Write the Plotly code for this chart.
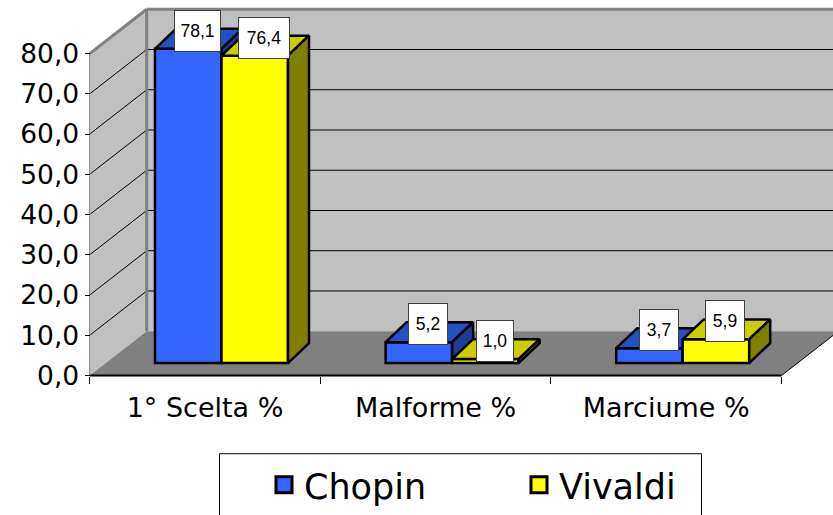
import plotly.graph_objects as go

CATEGORIES = ["1° Scelta %", "Malforme %", "Marciume %"]
CHOPIN = [78.1, 5.2, 3.7]
VIVALDI = [76.4, 1.0, 5.9]
Y_TICKS = [0, 10, 20, 30, 40, 50, 60, 70, 80]
W, H = 833, 515
PX_X = 230.6          # px per category
PX_Y = 4.04           # px per value unit
X0_PX, Y0_PX = 205.0, 377.0
xr = [(0 - X0_PX) / PX_X, (W - X0_PX) / PX_X]
yr = [(Y0_PX - H) / PX_Y, Y0_PX / PX_Y]
def hx(p): return p / PX_X
def hy(p): return p / PX_Y

WALL_DX, WALL_DY = hx(57), hy(44.5)
BAR_BASE = hy(12.5)
BAR_W = hx(66.5)
BAR_DX, BAR_DY = hx(21), hy(20)
OFF_A, OFF_B = hx(-50), hx(16.5)
LBL_DX, LBL_DY = hx(9.5), hy(18)
LBL_W = [[45, 38, 38], [50, 36, 38]]

shapes = []
def poly(pts, fill, line=None, lw=0):
    path = "M" + "L".join(f"{x},{y}" for x, y in pts) + "Z"
    shapes.append(dict(type="path", path=path, fillcolor=fill, layer="below",
                       line=dict(color=line or fill, width=lw), xref="x", yref="y"))
def seg(a, b, color, lw):
    shapes.append(dict(type="line", x0=a[0], y0=a[1], x1=b[0], y1=b[1], layer="below",
                       line=dict(color=color, width=lw), xref="x", yref="y"))

L, R, T = -0.5, 2.5, Y_TICKS[-1]
bx, by = L + WALL_DX, WALL_DY
poly([(L, 0), (bx, by), (bx, T + by), (L, T)], "#C0C0C0")
poly([(bx, by), (R + WALL_DX + 1, by), (R + WALL_DX + 1, T + by), (bx, T + by)], "#C0C0C0")
poly([(L, 0), (R, 0), (R + WALL_DX, by), (bx, by)], "#808080")
for t in Y_TICKS[1:-1]:
    seg((L, t), (bx, t + by), "#000000", 1)
    seg((bx, t + by), (R + WALL_DX + 1, t + by), "#000000", 1)
seg((L, T), (bx, T + by), "#808080", 3)
seg((bx, T + by), (R + WALL_DX + 1, T + by), "#808080", 3)
seg((bx, by), (bx, T + by), "#808080", 3)
seg((L, 0), (L, T), "#808080", 1)
seg((R, 0), (R + WALL_DX, by), "#000000", 1)
seg((L, 0), (R, 0), "#000000", 2)

fig = go.Figure()
SERIES = [("Chopin", CHOPIN, OFF_A, "#3366FF", "#2450C4", "#1C3C96", "x", "y"),
          ("Vivaldi", VIVALDI, OFF_B, "#FFFF00", "#CCCC00", "#808000", "x2", "y2")]

annots = []
for si, (name, vals, off, front, top, side, xa, ya) in enumerate(SERIES):
    fig.add_trace(go.Bar(x=list(range(len(vals))), y=vals, base=BAR_BASE, offset=off, width=BAR_W,
                         marker=dict(color=front, line=dict(color="#000000", width=2.5)),
                         name=name, showlegend=False, hoverinfo="skip", xaxis=xa, yaxis=ya))
    for i, v in enumerate(vals):
        x0, x1, yb, yt = i + off, i + off + BAR_W, BAR_BASE, BAR_BASE + v
        fig.add_trace(go.Scatter(x=[x0, x0 + BAR_DX, x1 + BAR_DX, x1, x0], y=[yt, yt + BAR_DY, yt + BAR_DY, yt, yt],
                                 mode="lines", fill="toself", fillcolor=top, xaxis=xa, yaxis=ya,
                                 line=dict(color="#000000", width=2.5), showlegend=False, hoverinfo="skip"))
        fig.add_trace(go.Scatter(x=[x1, x1 + BAR_DX, x1 + BAR_DX, x1, x1], y=[yt, yt + BAR_DY, yb + BAR_DY, yb, yt],
                                 mode="lines", fill="toself", fillcolor=side, xaxis=xa, yaxis=ya,
                                 line=dict(color="#000000", width=2.5), showlegend=False, hoverinfo="skip"))
        annots.append(dict(x=(x0 + x1) / 2 + LBL_DX, y=yt + LBL_DY, xref="x", yref="y", showarrow=False,
                           text=f"{v:.1f}".replace(".", ","), width=LBL_W[si][i], height=40,
                           bgcolor="#FFFFFF", bordercolor="#404040", borderwidth=1, borderpad=0,
                           align="center", valign="middle", xanchor="center", yanchor="middle",
                           font=dict(family="Liberation Sans", size=17.5, color="#000000")))

for name, vals, off, front, top, side, xa, ya in SERIES:
    fig.add_trace(go.Scatter(x=[None], y=[None], mode="markers", name=name,
                             marker=dict(symbol="square", size=16, color=front, line=dict(color="#000000", width=3))))

shapes.append(dict(type="rect", xref="paper", yref="paper",
                   x0=219.5 / W, x1=701.5 / W, y0=-0.1, y1=(H - 455.5) / H,
                   line=dict(color="#000000", width=1), fillcolor="#FFFFFF", layer="below"))

fig.update_layout(
    width=W, height=H, margin=dict(l=0, r=0, t=0, b=0),
    paper_bgcolor="#FFFFFF", plot_bgcolor="rgba(0,0,0,0)",
    barmode="overlay", shapes=shapes, annotations=annots,
    font=dict(family="DejaVu Sans", color="#000000"),
    xaxis=dict(range=xr, anchor="free", position=(H - Y0_PX) / H, showgrid=False, zeroline=False, showline=False,
               tickmode="array", tickvals=list(range(3)), ticktext=CATEGORIES,
               ticks="outside", ticklen=8, tickcolor="rgba(0,0,0,0)", tickfont=dict(size=27),
               minor=dict(tickmode="array", tickvals=[-0.5, 0.5, 1.5, 2.5], ticks="outside", ticklen=7,
                          tickcolor="#000000", tickwidth=1, showgrid=False)),
    yaxis=dict(range=yr, anchor="free", position=89.5 / W, showgrid=False, zeroline=False, showline=False,
               tickmode="array", tickvals=Y_TICKS, ticktext=[f"{t:.1f}".replace(".", ",") for t in Y_TICKS],
               ticks="outside", ticklen=5, tickcolor="#000000", tickfont=dict(size=26.5)),
    xaxis2=dict(range=xr, overlaying="x", visible=False, anchor="y2"),
    yaxis2=dict(range=yr, overlaying="y", visible=False, anchor="x2"),
    legend=dict(orientation="h", x=264 / W, xanchor="left", y=(H - 487) / H, yanchor="middle",
                entrywidth=210, entrywidthmode="pixels", itemsizing="trace",
                bgcolor="rgba(0,0,0,0)", font=dict(size=35)),
)
fig.write_html("out.html", config={"displayModeBar": False},
               post_script="document.body.style.margin='0';")
